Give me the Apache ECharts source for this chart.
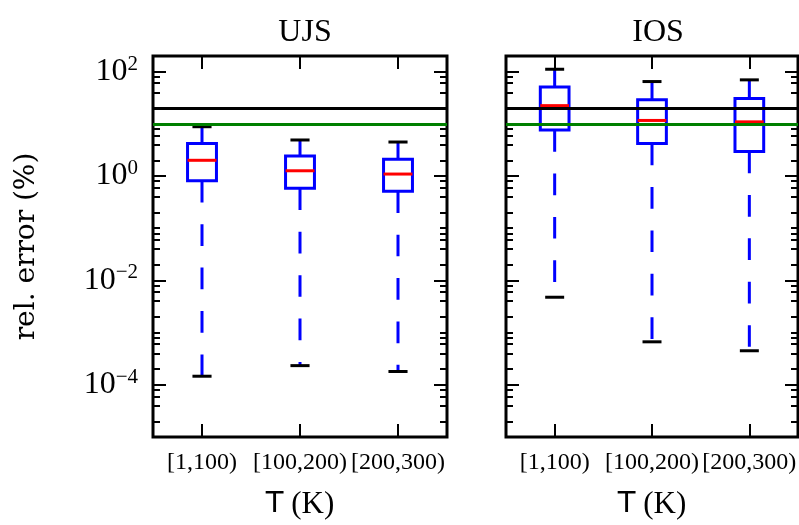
<!DOCTYPE html>
<html><head><meta charset="utf-8">
<script src="https://cdn.jsdelivr.net/npm/echarts@6/dist/echarts.min.js"></script>
<style>html,body{margin:0;padding:0;background:#fff}#c{width:799px;height:525px}</style>
</head><body><div id="c"></div>
<script>
// ---- data ----
const categories = ['[1,100)', '[100,200)', '[200,300)'];
const panelTitles = ['UJS', 'IOS'];
// UJS panel: whisker low, Q1, median, Q3, whisker high (rel. error, %)
const ujsLow  = [1.46e-4, 2.33e-4, 1.8e-4];
const ujsQ1   = [0.81, 0.58, 0.51];
const ujsMed  = [2.0, 1.26, 1.09];
const ujsQ3   = [4.2, 2.43, 2.1];
const ujsHigh = [8.8, 4.9, 4.48];
// IOS panel
const iosLow  = [4.76e-3, 6.66e-4, 4.49e-4];
const iosQ1   = [7.57, 4.18, 2.94];
const iosMed  = [22.3, 11.6, 10.9];
const iosQ3   = [50.5, 29.0, 30.7];
const iosHigh = [111, 64.5, 69.5];
// reference lines
const refBlack = 20;
const refGreen = 10;
// axis
const yMin = 1e-5, yMax = 200;
const majorTicks = [1e-4, 1e-2, 1, 100];
const minorTicks = [2e-5, 4e-5, 6e-5, 8e-5, 2e-4, 4e-4, 6e-4, 8e-4,
  1e-3, 2e-3, 4e-3, 6e-3, 8e-3, 2e-2, 4e-2, 6e-2, 8e-2,
  0.1, 0.2, 0.4, 0.6, 0.8, 2, 4, 6, 8, 10, 20, 40, 60, 80];
const yName = 'rel. error (%)';

// ---- chart ----
const L = v => Math.log10(v);
const SERIF = 'Liberation Serif';
const grids = [
  {left: 153, top: 55.9, width: 294, height: 384.5},
  {left: 506, top: 55.9, width: 294, height: 384.5}
];
const gridOpts = grids.map(g => Object.assign({show: true, borderColor: '#000', borderWidth: 3, backgroundColor: 'transparent', containLabel: false}, g));

const xAxes = [], yAxes = [];
grids.forEach((g, gi) => {
  const tickBase = {show: true, inside: true, alignWithLabel: true, length: 13, lineStyle: {color: '#000', width: 2}};
  xAxes.push({
    type: 'category', gridIndex: gi, position: 'bottom', data: categories,
    axisLine: {show: false, onZero: false}, axisTick: tickBase,
    axisLabel: {color: '#000', fontFamily: SERIF, fontSize: 24, margin: 14, interval: 0, hideOverlap: false},
    name: '{t|T} (K)', nameLocation: 'middle', nameGap: 52,
    nameTextStyle: {color: '#000', fontFamily: SERIF, fontSize: 31,
      rich: {t: {fontFamily: 'DejaVu Sans', fontSize: 29, color: '#000'}}},
    splitLine: {show: false}
  });
  xAxes.push({
    type: 'category', gridIndex: gi, position: 'top', data: categories,
    axisLine: {show: false, onZero: false}, axisTick: tickBase, axisLabel: {show: false}, splitLine: {show: false}
  });
  const mk = (pos, ticks, len, withLabels) => ({
    type: 'value', gridIndex: gi, position: pos, min: L(yMin), max: L(yMax),
    axisLine: {show: false, onZero: false}, splitLine: {show: false},
    axisTick: {show: true, inside: true, length: len, customValues: ticks.map(L), lineStyle: {color: '#000', width: 2}},
    axisLabel: withLabels ? {
      show: true, customValues: majorTicks.map(L), margin: 15, color: '#000',
      formatter: v => { const e = Math.round(v); return '{b|10}{s|' + (e < 0 ? '\u2212' : '') + Math.abs(e) + '}'; },
      rich: {
        b: {fontFamily: SERIF, fontSize: 32, color: '#000', lineHeight: 36},
        s: {fontFamily: SERIF, fontSize: 21, color: '#000', verticalAlign: 'top', lineHeight: 22}
      }
    } : {show: false},
    name: withLabels ? yName : '', nameLocation: 'middle', nameRotate: 90, nameGap: 112,
    nameTextStyle: {color: '#000', fontFamily: 'DejaVu Serif', fontSize: 28}
  });
  yAxes.push(mk('left', majorTicks, 13, gi === 0));
  yAxes.push(mk('left', minorTicks, 7, false));
  yAxes.push(mk('right', majorTicks, 13, false));
  yAxes.push(mk('right', minorTicks, 7, false));
});

function boxSeries(gi, low, q1, med, q3, high) {
  const data = categories.map((c, i) => [i, L(low[i]), L(q1[i]), L(med[i]), L(q3[i]), L(high[i])]);
  return {
    type: 'custom', xAxisIndex: gi * 2, yAxisIndex: gi * 4, z: 3, silent: true,
    data: data,
    encode: {x: 0, y: [1, 2, 3, 4, 5]},
    renderItem: (params, api) => {
      const xi = api.value(0);
      const band = api.size([1, 0])[0];
      const bw = band * 0.295, cw = band * 0.195;
      const pLow = api.coord([xi, api.value(1)]);
      const pQ1 = api.coord([xi, api.value(2)]);
      const pMed = api.coord([xi, api.value(3)]);
      const pQ3 = api.coord([xi, api.value(4)]);
      const pHigh = api.coord([xi, api.value(5)]);
      const cx = pQ1[0];
      const blue = '#0000ff';
      return {type: 'group', children: [
        {type: 'line', shape: {x1: cx, y1: pQ1[1], x2: cx, y2: pLow[1]},
          style: {stroke: blue, lineWidth: 3, lineDash: [21.7, 21.7]}},
        {type: 'line', shape: {x1: cx, y1: pQ3[1], x2: cx, y2: pHigh[1]},
          style: {stroke: blue, lineWidth: 3, lineDash: [21.7, 21.7]}},
        {type: 'rect', shape: {x: cx - bw / 2, y: pQ3[1], width: bw, height: pQ1[1] - pQ3[1]},
          style: {fill: 'none', stroke: blue, lineWidth: 3}},
        {type: 'line', shape: {x1: cx - bw / 2, y1: pMed[1], x2: cx + bw / 2, y2: pMed[1]},
          style: {stroke: '#ff0000', lineWidth: 3}},
        {type: 'line', shape: {x1: cx - cw / 2, y1: pLow[1], x2: cx + cw / 2, y2: pLow[1]},
          style: {stroke: '#000', lineWidth: 3}},
        {type: 'line', shape: {x1: cx - cw / 2, y1: pHigh[1], x2: cx + cw / 2, y2: pHigh[1]},
          style: {stroke: '#000', lineWidth: 3}}
      ]};
    }
  };
}
function refSeries(gi) {
  return {
    type: 'line', xAxisIndex: gi * 2, yAxisIndex: gi * 4, data: [], z: 5, silent: true,
    markLine: {
      symbol: 'none', silent: true, animation: false, label: {show: false},
      data: [
        {yAxis: L(refBlack), lineStyle: {color: '#000', width: 3, type: 'solid'}},
        {yAxis: L(refGreen), lineStyle: {color: '#008000', width: 3, type: 'solid'}}
      ]
    }
  };
}

const option = {
  animation: false,
  backgroundColor: '#fff',
  title: panelTitles.map((t, i) => ({
    text: t, left: grids[i].left + grids[i].width / 2, top: 12, textAlign: 'center',
    textStyle: {fontFamily: SERIF, fontWeight: 'normal', fontSize: 32, color: '#000'}
  })),
  grid: gridOpts,
  xAxis: xAxes,
  yAxis: yAxes,
  series: [
    boxSeries(0, ujsLow, ujsQ1, ujsMed, ujsQ3, ujsHigh),
    boxSeries(1, iosLow, iosQ1, iosMed, iosQ3, iosHigh),
    refSeries(0), refSeries(1)
  ]
};
const chart = echarts.init(document.getElementById('c'), null, {renderer: 'canvas'});
chart.setOption(option);
</script></body></html>
